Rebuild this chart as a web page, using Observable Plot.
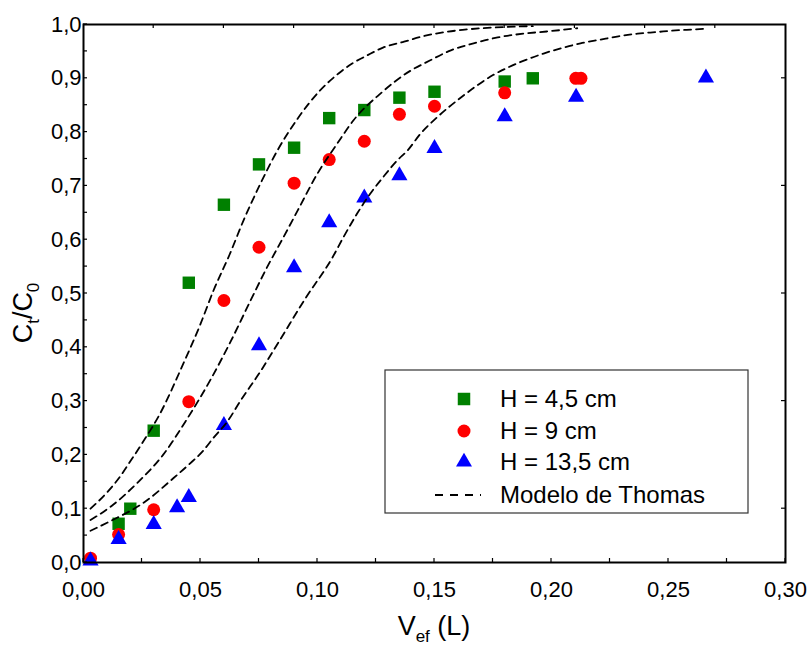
<!DOCTYPE html>
<html><head><meta charset="utf-8">
<script src="https://cdn.jsdelivr.net/npm/d3@7"></script>
<script src="https://cdn.jsdelivr.net/npm/@observablehq/plot@0.6"></script>
<style>
body{margin:0;background:#fff}
svg{font-family:"Liberation Sans",Arial,Helvetica,sans-serif}
</style>
</head><body><div id="chart"></div>
<script>
// ---- data ----
const volGreen = [0.015,0.020,0.030,0.045,0.060,0.075,0.090,0.105,0.120,0.135,0.150,0.180,0.192];
const ctGreen  = [0.072,0.100,0.245,0.520,0.665,0.740,0.771,0.826,0.841,0.864,0.875,0.894,0.900];

const volRed = [0.003,0.015,0.030,0.045,0.060,0.075,0.090,0.105,0.120,0.135,0.150,0.180,0.2104,0.2126];
const ctRed  = [0.008,0.052,0.098,0.299,0.487,0.586,0.705,0.749,0.783,0.833,0.848,0.873,0.900,0.900];

const volBlue = [0.003,0.015,0.030,0.040,0.045,0.060,0.075,0.090,0.105,0.120,0.135,0.150,0.180,0.2105,0.266];
const ctBlue  = [0.003,0.043,0.071,0.102,0.121,0.255,0.403,0.548,0.632,0.678,0.719,0.770,0.829,0.865,0.901];

// Thomas model curves
const thomasAx = [0.003,0.010,0.015,0.020,0.026,0.0325,0.0427,0.0496,0.0556,0.0624,0.0684,0.0756,0.0829,0.0915,0.101,0.109,0.115,0.121,0.128,0.137,0.145,0.153,0.162,0.184,0.192];
const thomasAy = [0.100,0.130,0.156,0.188,0.228,0.275,0.370,0.439,0.506,0.572,0.636,0.704,0.766,0.825,0.877,0.909,0.928,0.942,0.957,0.968,0.978,0.985,0.990,0.996,0.997];

const thomasBx = [0.003,0.012,0.023,0.034,0.044,0.0543,0.0628,0.0714,0.078,0.0855,0.0915,0.100,0.1085,0.1154,0.127,0.1397,0.148,0.157,0.1667,0.177,0.188,0.198,0.211];
const thomasBy = [0.079,0.105,0.148,0.200,0.265,0.340,0.410,0.487,0.545,0.605,0.654,0.723,0.779,0.822,0.872,0.914,0.933,0.952,0.965,0.976,0.983,0.987,0.993];

const thomasCx = [0.003,0.012,0.026,0.0385,0.045,0.051,0.0556,0.0615,0.067,0.0756,0.084,0.095,0.1064,0.111,0.117,0.1226,0.128,0.134,0.1385,0.144,0.151,0.1624,0.175,0.1855,0.1966,0.205,0.2124,0.221,0.2286,0.2368,0.245,0.253,0.2615,0.265];
const thomasCy = [0.059,0.078,0.112,0.157,0.182,0.207,0.232,0.262,0.300,0.355,0.414,0.492,0.567,0.604,0.649,0.686,0.716,0.747,0.766,0.797,0.827,0.868,0.906,0.928,0.946,0.957,0.965,0.972,0.978,0.983,0.986,0.989,0.991,0.992];

const xTickLabels = [0,0.05,0.10,0.15,0.20,0.25,0.30];
const yTickLabels = [0,0.1,0.2,0.3,0.4,0.5,0.6,0.7,0.8,0.9,1.0];
const bottomTicks = [0,0.025,0.05,0.075,0.10,0.125,0.15,0.175,0.20,0.225,0.25,0.275,0.30];
const leftTicks = [0,0.05,0.1,0.15,0.2,0.25,0.3,0.35,0.4,0.45,0.5,0.55,0.6,0.65,0.7,0.75,0.8,0.85,0.9,0.95,1.0];
const topTicks = [0.03,0.06,0.09,0.12,0.15,0.18,0.21,0.24,0.27];
const rightTicks = [0.1,0.3,0.5,0.7,0.9];

const seriesNames = ["H = 4,5 cm","H = 9 cm","H = 13,5 cm","Modelo de Thomas"];
const seriesColors = ["#008000","#ff0000","#0000ff","#000000"];

// ---- build tables ----
const zip = (xs, ys) => xs.map((x, i) => ({x, y: ys[i]}));
const green = zip(volGreen, ctGreen);
const red = zip(volRed, ctRed);
const blue = zip(volBlue, ctBlue);
const curveA = zip(thomasAx, thomasAy);
const curveB = zip(thomasBx, thomasBy);
const curveC = zip(thomasCx, thomasCy);

const comma = (d, n) => d.toFixed(n).replace(".", ",");
const lineOpts = {x: "x", y: "y", stroke: "black", strokeWidth: 1.8, strokeDasharray: "7,5", curve: "monotone-x"};

const plot = Plot.plot({
  width: 810, height: 646,
  marginLeft: 83, marginRight: 25, marginTop: 24, marginBottom: 84,
  style: {fontFamily: '"Liberation Sans", Arial, sans-serif', background: "white", color: "black", overflow: "visible"},
  x: {domain: [0, 0.30]},
  y: {domain: [0, 1.0]},
  marks: [
    Plot.axisX({ticks: xTickLabels, tickSize: 0, tickPadding: 19, tickFormat: d => comma(d, 2), fontSize: 22, label: null}),
    Plot.axisY({ticks: yTickLabels, tickSize: 0, tickPadding: 2, tickFormat: d => comma(d, 1), fontSize: 22, label: null}),
    Plot.dot(green, {x: "x", y: "y", symbol: "square", r: 7, fill: seriesColors[0]}),
    Plot.dot(red, {x: "x", y: "y", symbol: "circle", r: 6.5, fill: seriesColors[1]}),
    Plot.dot(blue, {x: "x", y: "y", symbol: "triangle", r: 6, fill: seriesColors[2]}),
    Plot.line(curveA, lineOpts),
    Plot.line(curveB, lineOpts),
    Plot.line(curveC, lineOpts),
    Plot.frame({stroke: "black", strokeWidth: 2})
  ]
});
document.getElementById("chart").appendChild(plot);

// ---- inward ticks, axis titles and legend ----
const sx = plot.scale("x"), sy = plot.scale("y");
const svg = d3.select(plot);
const X0 = sx.apply(0), X1 = sx.apply(0.30), Y0 = sy.apply(0), Y1 = sy.apply(1.0);
const tk = svg.append("g").attr("stroke", "black").attr("stroke-width", 1.2);
bottomTicks.forEach(v => tk.append("line").attr("x1", sx.apply(v)).attr("x2", sx.apply(v)).attr("y1", Y0).attr("y2", Y0 - 4));
topTicks.forEach(v => tk.append("line").attr("x1", sx.apply(v)).attr("x2", sx.apply(v)).attr("y1", Y1).attr("y2", Y1 + 4));
leftTicks.forEach(v => tk.append("line").attr("y1", sy.apply(v)).attr("y2", sy.apply(v)).attr("x1", X0).attr("x2", X0 + 4));
rightTicks.forEach(v => tk.append("line").attr("y1", sy.apply(v)).attr("y2", sy.apply(v)).attr("x1", X1).attr("x2", X1 - 4));

// x title
const xt = svg.append("text").attr("x", (X0 + X1) / 2).attr("y", 635).attr("text-anchor", "middle")
  .attr("font-size", 27).attr("fill", "black");
xt.append("tspan").text("V");
xt.append("tspan").attr("font-size", 17).attr("dy", 7).text("ef");
xt.append("tspan").attr("dy", -7).text(" (L)");

// y title
const yt = svg.append("text").attr("transform", "translate(32,313) rotate(-90)").attr("text-anchor", "middle")
  .attr("font-size", 27).attr("fill", "black");
yt.append("tspan").text("C");
yt.append("tspan").attr("font-size", 17).attr("dy", 7).text("t");
yt.append("tspan").attr("dy", -7).text("/C");
yt.append("tspan").attr("font-size", 17).attr("dy", 7).text("0");

// legend
const lg = svg.append("g").attr("text-anchor", "start");
lg.append("rect").attr("x", 385).attr("y", 370).attr("width", 363).attr("height", 143)
  .attr("fill", "white").attr("stroke", "#333").attr("stroke-width", 1.2);
const rows = [399, 431, 462, 495];
const symbols = [d3.symbol(d3.symbolSquare, 156)(), d3.symbol(d3.symbolCircle, Math.PI * 6.5 * 6.5)(), d3.symbol(d3.symbolTriangle, Math.sqrt(3) / 4 * 16 * 16)()];
symbols.forEach((p, i) => lg.append("path").attr("d", p).attr("fill", seriesColors[i]).attr("transform", `translate(464,${rows[i]})`));
lg.append("line").attr("x1", 435).attr("x2", 481).attr("y1", rows[3]).attr("y2", rows[3])
  .attr("stroke", "black").attr("stroke-width", 1.8).attr("stroke-dasharray", "8,7");
seriesNames.forEach((t, i) => lg.append("text").attr("x", 500).attr("y", rows[i]).attr("dy", "0.35em")
  .attr("text-anchor", "start").attr("font-size", 24).attr("fill", "black").text(t));
</script>
</body></html>
